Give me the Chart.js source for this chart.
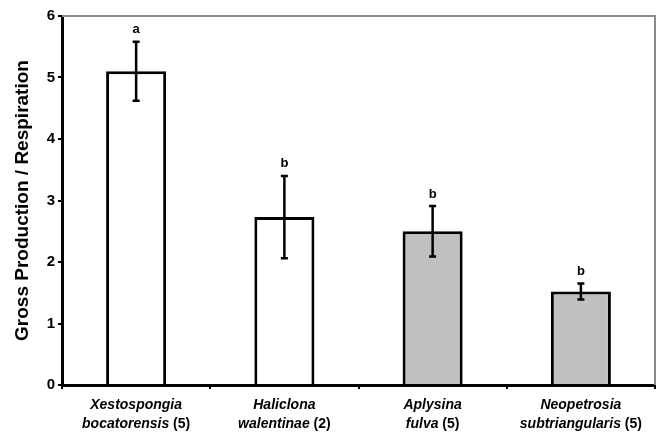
<!DOCTYPE html>
<html>
<head>
<meta charset="utf-8">
<script src="https://cdn.jsdelivr.net/npm/chart.js@4.4.0/dist/chart.umd.min.js"></script>
<style>
html, body { margin: 0; padding: 0; background: #fff; }
#wrap { width: 661px; height: 434px; }
</style>
</head>
<body>
<div id="wrap"><canvas id="myChart"></canvas></div>
<script>
const genus = ['Xestospongia', 'Haliclona', 'Aplysina', 'Neopetrosia'];
const epithet = ['bocatorensis', 'walentinae', 'fulva', 'subtriangularis'];
const sampleSize = [5, 2, 5, 5];
const ratio = [5.1, 2.73, 2.5, 1.52];
const stdErr = [0.48, 0.67, 0.41, 0.13];
const letters = ['a', 'b', 'b', 'b'];

const FONT = 'Arial, "Liberation Sans", sans-serif';

// error bars + significance letters
const errorBars = {
    id: 'errorBars',
    afterDatasetsDraw(chart) {
        const ctx = chart.ctx;
        const x = chart.scales.x, y = chart.scales.y;
        ctx.save();
        ctx.strokeStyle = '#000';
        ctx.lineWidth = 2.5;
        ratio.forEach((v, i) => {
            const px = x.getPixelForValue(i);
            const top = y.getPixelForValue(v + stdErr[i]);
            const bot = y.getPixelForValue(v - stdErr[i]);
            ctx.beginPath();
            ctx.moveTo(px, top); ctx.lineTo(px, bot);
            ctx.moveTo(px - 3.5, top); ctx.lineTo(px + 3.5, top);
            ctx.moveTo(px - 3.5, bot); ctx.lineTo(px + 3.5, bot);
            ctx.stroke();
            ctx.fillStyle = '#000';
            ctx.font = 'bold 13px ' + FONT;
            ctx.textAlign = 'center';
            ctx.textBaseline = 'middle';
            ctx.fillText(letters[i], px, top - 12);
        });
        ctx.restore();
    }
};

// gray frame on top and right, two-line category labels
const frameAndLabels = {
    id: 'frameAndLabels',
    afterDraw(chart) {
        const ctx = chart.ctx;
        const a = chart.chartArea;
        const x = chart.scales.x;
        ctx.save();
        ctx.strokeStyle = '#8c8c8c';
        ctx.lineWidth = 2;
        ctx.beginPath();
        ctx.moveTo(a.left, a.top);
        ctx.lineTo(a.right, a.top);
        ctx.lineTo(a.right, a.bottom);
        ctx.stroke();

        ctx.fillStyle = '#000';
        ctx.textBaseline = 'middle';
        ctx.textAlign = 'left';
        genus.forEach((g, i) => {
            const px = x.getPixelForValue(i);
            ctx.font = 'italic bold 14px ' + FONT;
            const w1 = ctx.measureText(g).width;
            ctx.fillText(g, px - w1 / 2, 405);
            const it = epithet[i];
            const wi = ctx.measureText(it).width;
            ctx.font = 'bold 14px ' + FONT;
            const rest = ' (' + sampleSize[i] + ')';
            const wr = ctx.measureText(rest).width;
            const start = px - (wi + wr) / 2;
            ctx.font = 'italic bold 14px ' + FONT;
            ctx.fillText(it, start, 424);
            ctx.font = 'bold 14px ' + FONT;
            ctx.fillText(rest, start + wi, 424);
        });
        ctx.restore();
    }
};

const ctx = document.getElementById('myChart');
new Chart(ctx, {
    type: 'bar',
    data: {
        labels: genus.map((g, i) => g + ' ' + epithet[i]),
        datasets: [{
            data: ratio,
            backgroundColor: ['#ffffff', '#ffffff', '#c0c0c0', '#c0c0c0'],
            borderColor: '#000',
            borderWidth: 3,
            borderSkipped: 'bottom',
            categoryPercentage: 1,
            barPercentage: 0.405
        }]
    },
    options: {
        responsive: true,
        maintainAspectRatio: false,
        animation: false,
        layout: { padding: { left: 0, right: 6, top: 16, bottom: 0 } },
        plugins: {
            legend: { display: false },
            tooltip: { enabled: false }
        },
        scales: {
            x: {
                ticks: { display: false },
                grid: { drawOnChartArea: false, drawTicks: true, tickLength: 4, color: '#000', lineWidth: 2, offset: true },
                border: { color: '#000', width: 3 },
                afterFit(scale) { scale.height = 49; }
            },
            y: {
                min: 0,
                max: 6,
                ticks: {
                    stepSize: 1,
                    color: '#000',
                    padding: 3,
                    font: { family: FONT, size: 15, weight: 'bold' }
                },
                grid: { drawOnChartArea: false, drawTicks: true, tickLength: 4, color: '#000', lineWidth: 2 },
                border: { color: '#000', width: 3 },
                title: {
                    display: true,
                    text: 'Gross Production / Respiration',
                    color: '#000',
                    padding: { top: 11, bottom: 0 },
                    font: { family: FONT, size: 19, weight: 'bold' }
                },
                afterFit(scale) { scale.width = 62; }
            }
        }
    },
    plugins: [errorBars, frameAndLabels]
});
</script>
</body>
</html>
